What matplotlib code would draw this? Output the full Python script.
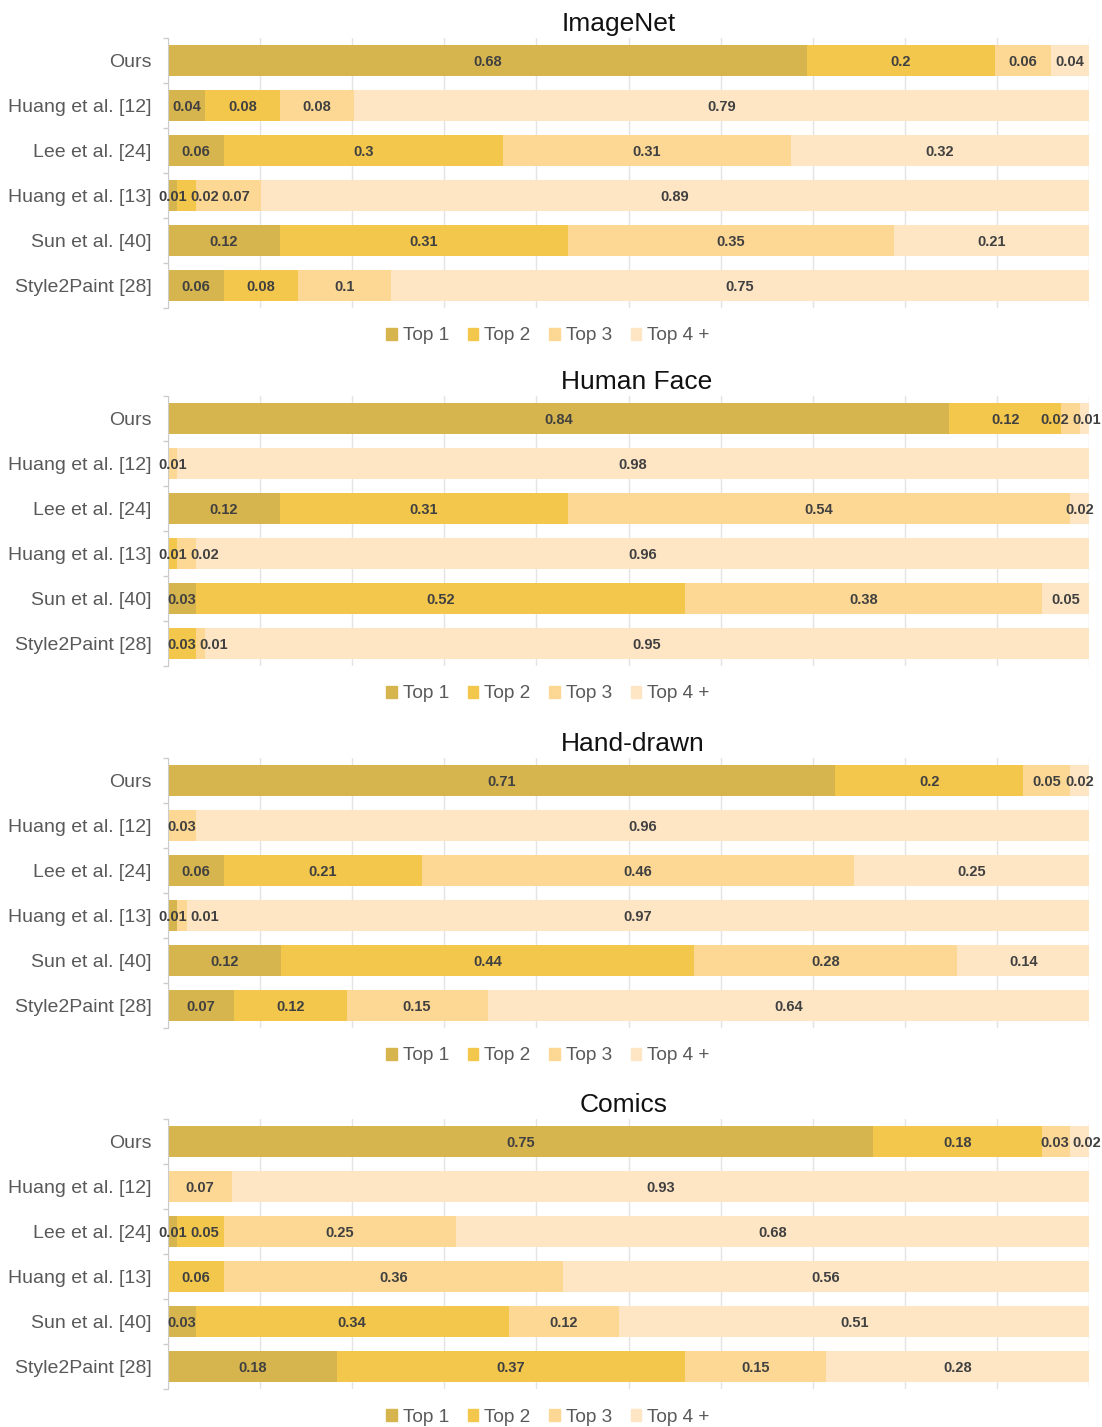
"""
User-study ranking results: share of Top 1 / Top 2 / Top 3 / Top 4+ votes
for each colorization method, one stacked (100 %) bar panel per dataset.
"""
import numpy as np
import matplotlib.pyplot as plt
from matplotlib.patches import Patch

plt.rcParams['font.family'] = ['Liberation Sans', 'DejaVu Sans']

methods = ["Ours", "Huang et al. [12]", "Lee et al. [24]",
           "Huang et al. [13]", "Sun et al. [40]", "Style2Paint [28]"]
ranks = ["Top 1", "Top 2", "Top 3", "Top 4 +"]
colors = ["#d6b44e", "#f2c74c", "#fdd894", "#fee6c5"]
datasets = ["ImageNet", "Human Face", "Hand-drawn", "Comics"]

# rows follow `methods`, columns follow `ranks`
imagenet = [[0.68, 0.2, 0.06, 0.04],
            [0.04, 0.08, 0.08, 0.79],
            [0.06, 0.3, 0.31, 0.32],
            [0.01, 0.02, 0.07, 0.89],
            [0.12, 0.31, 0.35, 0.21],
            [0.06, 0.08, 0.1, 0.75]]
human_face = [[0.84, 0.12, 0.02, 0.01],
              [0, 0, 0.01, 0.98],
              [0.12, 0.31, 0.54, 0.02],
              [0, 0.01, 0.02, 0.96],
              [0.03, 0.52, 0.38, 0.05],
              [0, 0.03, 0.01, 0.95]]
hand_drawn = [[0.71, 0.2, 0.05, 0.02],
              [0, 0, 0.03, 0.96],
              [0.06, 0.21, 0.46, 0.25],
              [0.01, 0, 0.01, 0.97],
              [0.12, 0.44, 0.28, 0.14],
              [0.07, 0.12, 0.15, 0.64]]
comics = [[0.75, 0.18, 0.03, 0.02],
          [0, 0, 0.07, 0.93],
          [0.01, 0.05, 0.25, 0.68],
          [0, 0.06, 0.36, 0.56],
          [0.03, 0.34, 0.12, 0.51],
          [0.18, 0.37, 0.15, 0.28]]
panels = [imagenet, human_face, hand_drawn, comics]

W, H = 1102, 1427
panel_tops = [38, 396, 758, 1119]   # px from top
title_x = [619, 637, 633, 624]      # px, title centres as in the original
ax_left, ax_width, ax_height = 168, 921, 270

fig = plt.figure(figsize=(W / 100, H / 100), dpi=100)
renderer = fig.canvas.get_renderer()


def spread_labels(ax, texts, gap=3.0, right_limit=W - 1):
    """shift overlapping value labels sideways (pixel space)"""
    if len(texts) < 2:
        return
    cx, w = [], []
    for t in texts:
        ext = t.get_window_extent(renderer)
        cx.append(ax.transData.transform(t.get_position())[0])
        w.append(ext.width)
    for i in range(1, len(texts)):
        prev_right = cx[i - 1] + w[i - 1] / 2
        if cx[i] - w[i] / 2 < prev_right + gap:
            cx[i] = prev_right + gap + w[i] / 2
    if cx[-1] + w[-1] / 2 > right_limit:
        cx[-1] = right_limit - w[-1] / 2
        for i in range(len(texts) - 2, -1, -1):
            next_left = cx[i + 1] - w[i + 1] / 2
            if cx[i] + w[i] / 2 > next_left - gap:
                cx[i] = next_left - gap - w[i] / 2
    inv = ax.transData.inverted()
    for t, c in zip(texts, cx):
        y = t.get_position()[1]
        ypx = ax.transData.transform((0, y))[1]
        t.set_x(inv.transform((c, ypx))[0])


for name, data, top, tx in zip(datasets, panels, panel_tops, title_x):
    ax = fig.add_axes([ax_left / W, 1 - (top + ax_height) / H,
                       ax_width / W, ax_height / H])
    vals = np.array(data, dtype=float)
    share = vals / vals.sum(axis=1, keepdims=True)
    y = np.arange(len(methods))
    left = np.zeros(len(methods))
    for k, rank in enumerate(ranks):
        ax.barh(y, share[:, k], left=left, height=0.667,
                color=colors[k], linewidth=0, zorder=2)
        left += share[:, k]

    # value labels
    for i in range(len(methods)):
        texts = []
        start = 0.0
        for k in range(len(ranks)):
            if vals[i, k] > 0:
                texts.append(ax.text(start + share[i, k] / 2, y[i] + 0.03, f"{vals[i, k]:g}",
                                     ha="center", va="center", fontsize=10.5,
                                     fontweight="bold", color="#404040", zorder=4))
            start += share[i, k]
        spread_labels(ax, texts)

    ax.set_xlim(0, 1)
    ax.set_ylim(len(methods) - 0.5, -0.5)
    ax.set_xticks(np.arange(0, 1.01, 0.1))
    ax.tick_params(axis="x", length=0, labelbottom=False)
    ax.grid(axis="x", color="#e4e4e4", linewidth=1, zorder=1)
    ax.set_yticks(y)
    ax.set_yticklabels(methods, fontsize=14, color="#595959")
    ax.tick_params(axis="y", which="major", length=0, pad=12)
    ax.set_yticks(np.arange(-0.5, len(methods)), minor=True)
    ax.tick_params(axis="y", which="minor", length=3.6, color="#cccccc", width=1)
    for s in ["top", "right", "bottom"]:
        ax.spines[s].set_visible(False)
    ax.spines["left"].set_color("#cccccc")

    fig.text(tx / W, 1 - (top - 14) / H, name, ha="center", va="center",
             fontsize=19, color="#111111")
    handles = [Patch(color=c) for c in colors]
    fig.legend(handles, ranks, loc="center", ncol=4, frameon=False,
               bbox_to_anchor=(548 / W, 1 - (top + ax_height + 28) / H),
               fontsize=13.7, handlelength=0.55, handleheight=0.55,
               handletextpad=0.3, columnspacing=1.0, labelcolor="#595959")

fig.savefig("out.png", dpi=100)
